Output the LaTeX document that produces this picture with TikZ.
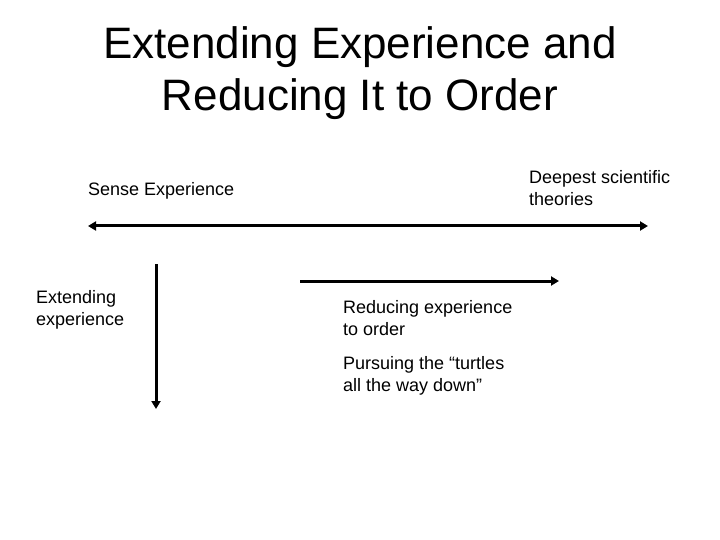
\documentclass[tikz,border=0pt]{standalone}
\usepackage{fontspec}
\setmainfont{Liberation Sans}
\usetikzlibrary{arrows.meta}
\begin{document}
\begin{tikzpicture}[x=1pt,y=-1pt,
  body/.style={font=\fontsize{18}{22}\selectfont, align=left, inner sep=0pt, anchor=north west},
  titletext/.style={font=\fontsize{44}{52.5}\selectfont, align=center, inner sep=0pt},
  arr/.style={line width=3pt, -{Triangle[length=8pt,width=9pt]}},
  darr/.style={line width=3pt, {Triangle[length=8pt,width=9pt]}-{Triangle[length=8pt,width=9pt]}}]
\useasboundingbox (0,0) rectangle (720,540);
\node[titletext, anchor=north] (title) at (360,26) {Extending Experience and\\Reducing It to Order};
\node[body] (sense) at (88,182) {Sense Experience};
\node[body] (deep) at (529,170) {Deepest scientific\\theories};
\node[body] (ext) at (36,290) {Extending\\experience};
\node[body] (red) at (343,300) {Reducing experience\\to order};
\node[body] (turt) at (343,356) {Pursuing the “turtles\\all the way down”};
\coordinate (hl) at (88,226);
\coordinate (hr) at (648,226);
\coordinate (vt) at (156,264);
\coordinate (vb) at (156,409);
\coordinate (rl) at (300,281);
\coordinate (rr) at (559,281);
\draw[darr] (hl) -- (hr);
\draw[arr] (vt) -- (vb);
\draw[arr] (rl) -- (rr);
\end{tikzpicture}
\end{document}
